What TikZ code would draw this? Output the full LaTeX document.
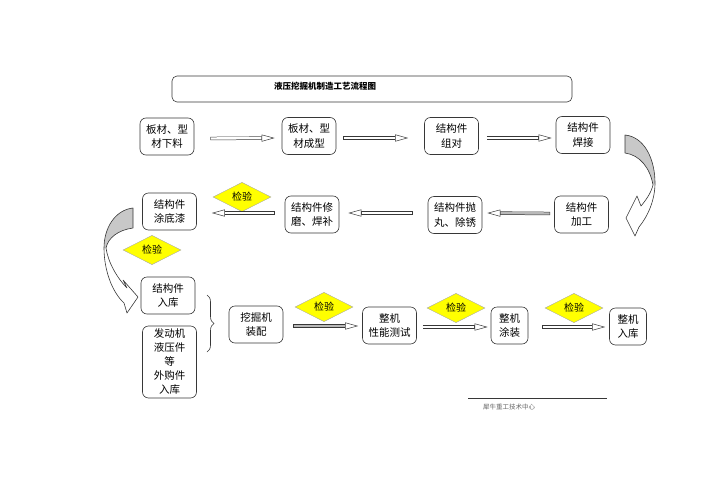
\documentclass[tikz,border=0pt]{standalone}
\usepackage{fontspec}
\setmainfont{Noto Sans CJK SC}
\usetikzlibrary{shapes.geometric, arrows.meta, positioning, calc, decorations.pathreplacing}
\definecolor{myline}{RGB}{55,55,55}
\definecolor{mygray}{RGB}{200,200,200}
\definecolor{myyellow}{RGB}{255,255,0}
\tikzset{
  stepbox/.style={rectangle, draw=myline, fill=white, align=center,
    minimum width=54pt, minimum height=37pt, inner sep=1pt,
    font=\fontsize{10.5}{14.5}\selectfont, rounded corners=6pt, line width=0.6pt},
  narrowbox/.style={stepbox, minimum width=37pt},
  flow/.style={draw=myline, line width=3.4pt,
    -{Triangle[length=13pt, width=7pt, line width=0.5pt, fill=white]},
    postaction={draw=white, line width=2.4pt, arrows=-, shorten <=0.5pt, shorten >=13.4pt}},
  grayflow/.style={draw=myline, line width=3.4pt,
    -{Triangle[length=13pt, width=7pt, line width=0.5pt, fill=white]},
    postaction={draw=gray!55, line width=2.4pt, arrows=-, shorten <=0.5pt, shorten >=13.4pt}},
  bendarrow/.style={draw=myline, line width=0.6pt, line join=round}
}
\begin{document}
\begin{tikzpicture}[x=1pt, y=-1pt,
  chk/.style={diamond, draw=gray!70, fill=myyellow, minimum width=58pt, minimum height=27pt,
    inner sep=0pt, font=\fontsize{10}{10}\selectfont},
  titlebox/.style={rectangle, draw=myline, rounded corners=5pt, line width=0.6pt,
    minimum width=400pt, minimum height=26pt}
]
\useasboundingbox (0,0) rectangle (708,500);

%--- title ---
\node[titlebox] (T) at (372,89) {};
\node[font=\bfseries\fontsize{8.5}{8.5}\selectfont] (Ttext) at (325,86) {液压挖掘机制造工艺流程图};

%--- first row ---
\node[stepbox] (xl) at (167,136.5) {板材、型\\材下料};
\node[stepbox] (cx) at (309,136) {板材、型\\材成型};
\node[stepbox] (zd) at (451.5,136) {结构件\\组对};
\node[stepbox] (hj) at (583,135) {结构件\\焊接};

%--- second row ---
\node[stepbox] (jg) at (581.5,214.5) {结构件\\加工};
\node[stepbox] (pw) at (455,215) {结构件抛\\丸、除锈};
\node[stepbox] (xm) at (312,214.5) {结构件修\\磨、焊补};
\node[stepbox] (tdq) at (169.5,211.5) {结构件\\涂底漆};

%--- third row ---
\node[stepbox] (rk) at (168,295.5) {结构件\\入库};
\node[stepbox, minimum height=72pt, font=\fontsize{10.5}{14}\selectfont] (wg) at (169.5,362) {发动机\\液压件\\等\\外购件\\入库};
\node[stepbox] (zp) at (256,324.5) {挖掘机\\装配};
\node[stepbox] (cs) at (389.5,325.5) {整机\\性能测试};
\node[narrowbox] (tz) at (509.5,325.5) {整机\\涂装};
\node[narrowbox] (zrk) at (628,326.5) {整机\\入库};

%--- checks ---
\node[chk] (c1) at (242,197) {检验};
\node[chk] (c2) at (152,250) {检验};
\node[chk] (c3) at (324,307) {检验};
\node[chk] (c4) at (456,308) {检验};
\node[chk] (c5) at (574,308) {检验};

%--- connectors ---
\draw[flow] ($(xl.east)+(16,2)$) -- ($(cx.west)+(-7,2)$);
\draw[flow] ($(cx.east)+(7,2)$) -- ($(zd.west)+(-16,2)$);
\draw[flow] ($(zd.east)+(8,2)$) -- ($(hj.west)+(-4,3)$);
\draw[grayflow] ($(jg.west)+(-4,-1)$) -- ($(pw.east)+(5,-2)$);
\draw[flow] ($(pw.west)+(-15,-2)$) -- ($(xm.east)+(9,-1.5)$);
\draw[flow] ($(xm.west)+(-10,-1.5)$) -- ($(tdq.east)+(15,1.5)$);
\draw[grayflow] ($(zp.east)+(10,1.5)$) -- ($(cs.west)+(-4,0.5)$);
\draw[flow] ($(cs.east)+(6,1.5)$) -- ($(tz.west)+(-3,1.5)$);
\draw[flow] ($(tz.east)+(14,1.5)$) -- ($(zrk.west)+(-4,0.5)$);

% brace
\draw[line width=0.6pt, draw=myline, decorate, decoration={brace, amplitude=7pt}]
  (207,295) -- (207,352);

%--- curved arrow right ---
\fill[mygray] (625,135) .. controls (645,137) and (655,160) .. (655,183)
  -- (653,185) .. controls (650,168) and (640,155) .. (625,153) -- cycle;
\draw[bendarrow] (625,153) -- (625,135) .. controls (645,137) and (655,160) .. (655,183)
  .. controls (655,200) and (648,216) .. (639,227) -- (635,236) -- (626,218)
  -- (637,196) -- (641,206) .. controls (646,200) and (651,193) .. (653,185)
  .. controls (650,168) and (640,155) .. (625,153);

%--- curved arrow left ---
\fill[mygray] (133,208) .. controls (115,210) and (104,228) .. (104,248)
  -- (106,248) .. controls (108,238) and (118,230) .. (133,228) -- cycle;
\draw[bendarrow] (133,228) -- (133,208) .. controls (115,210) and (104,228) .. (104,248)
  .. controls (104,270) and (112,292) .. (124,303) -- (127,313) -- (138,297)
  -- (123,280) -- (127,288) .. controls (117,278) and (108,262) .. (106,248)
  .. controls (108,238) and (118,230) .. (133,228);

%--- footer ---
\draw[line width=0.6pt, draw=myline] (468,398) coordinate (f1) -- (607,398) coordinate (f2);
\node[font=\fontsize{6.5}{6.5}\selectfont, text=gray!80!black] (foot) at (509,407) {犀牛重工技术中心};
\end{tikzpicture}
\end{document}
